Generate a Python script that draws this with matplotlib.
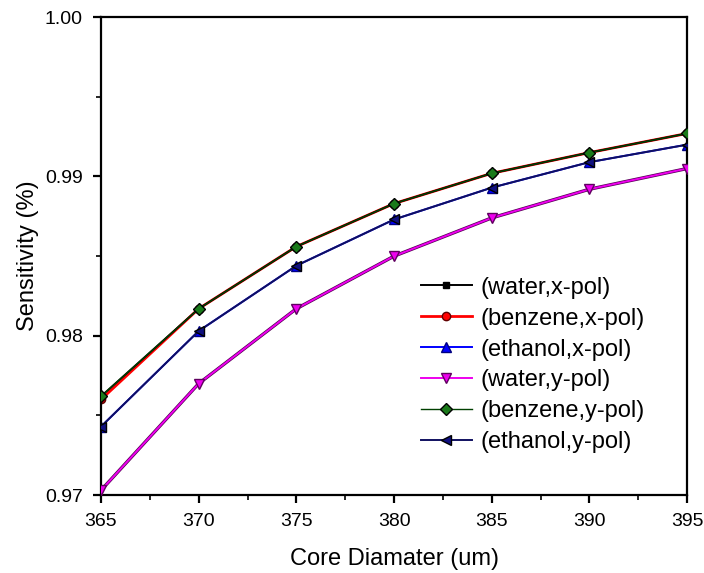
import numpy as np
import matplotlib.pyplot as plt
from matplotlib.ticker import MultipleLocator

plt.rcParams['font.family'] = ['Liberation Sans', 'DejaVu Sans']

### DATA
diameter = [365, 370, 375, 380, 385, 390, 395]

water_x    = [0.9762, 0.9817, 0.9856, 0.9883, 0.9902, 0.9915, 0.9927]
benzene_x  = [0.9760, 0.9817, 0.9856, 0.9883, 0.9902, 0.9915, 0.9927]
ethanol_x  = [0.9743, 0.9803, 0.9844, 0.9873, 0.9893, 0.9909, 0.9920]
water_y    = [0.9703, 0.9770, 0.9817, 0.9850, 0.9874, 0.9892, 0.9905]
benzene_y  = [0.9762, 0.9817, 0.9856, 0.9883, 0.9902, 0.9915, 0.9927]
ethanol_y  = [0.9743, 0.9803, 0.9844, 0.9873, 0.9893, 0.9909, 0.9920]

labels = ['(water,x-pol)', '(benzene,x-pol)', '(ethanol,x-pol)',
          '(water,y-pol)', '(benzene,y-pol)', '(ethanol,y-pol)']

### PLOT
fig = plt.figure(figsize=(7.04, 5.73), dpi=100)
ax = fig.add_axes([0.1435, 0.136, 0.8325, 0.834])

ax.plot(diameter, water_x, '-s', color='black', lw=1.4, ms=5,
        mec='black', label=labels[0], zorder=3)
ax.plot(diameter, benzene_x, '-o', color='red', lw=2.0, ms=6,
        mec='#600000', label=labels[1], zorder=2)
ax.plot(diameter, ethanol_x, '-^', color='blue', lw=1.4, ms=7,
        mec='#000080', label=labels[2], zorder=2)
# dark core line under the magenta curve
ax.plot(diameter, water_y, '-', color='#500050', lw=2.4, zorder=2)
ax.plot(diameter, water_y, '-v', color='#ee00ee', lw=1.4, ms=7,
        mec='#600060', label=labels[3], zorder=3)
ax.plot(diameter, benzene_y, '-D', color='#004000', lw=1.0, ms=6,
        mfc='#1a7a1a', mec='black', label=labels[4], zorder=4)
ax.plot(diameter, ethanol_y, '-<', color='#101060', lw=1.4, ms=7,
        mfc='#101080', mec='black', label=labels[5], zorder=4)

ax.set_xlim(365, 395)
ax.set_ylim(0.97, 1.00)
ax.xaxis.set_major_locator(MultipleLocator(5))
ax.xaxis.set_minor_locator(MultipleLocator(2.5))
ax.yaxis.set_major_locator(MultipleLocator(0.01))
ax.yaxis.set_minor_locator(MultipleLocator(0.005))
ax.yaxis.set_major_formatter(plt.FormatStrFormatter('%.2f'))

for sp in ax.spines.values():
    sp.set_linewidth(1.6)
ax.tick_params(which='major', direction='out', length=6, width=1.6,
               labelsize=14, pad=7, top=False, right=False)
ax.tick_params(which='minor', direction='out', length=3.5, width=1.2,
               top=False, right=False)

ax.set_xlabel('Core Diamater (um)', fontsize=17, labelpad=13)
ax.set_ylabel('Sensitivity (%)', fontsize=17, labelpad=4)

handles, labs = ax.get_legend_handles_labels()
leg = ax.legend(handles, labs, loc='upper left',
                bbox_to_anchor=(0.529, 0.477), borderaxespad=0,
                frameon=False, fontsize=17, handlelength=2.2,
                labelspacing=0.38, handletextpad=0.35)

fig.savefig('out.png', dpi=100)
